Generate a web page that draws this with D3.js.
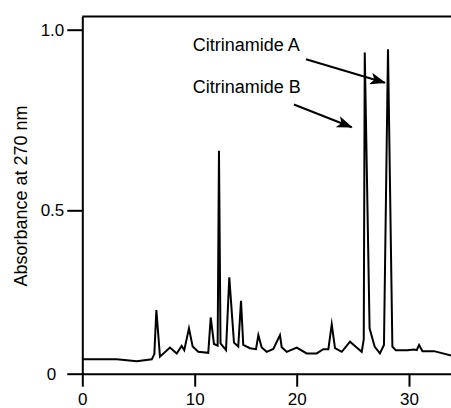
<!DOCTYPE html>
<meta charset="utf-8">
<style>
  body { margin: 0; background: #fff; }
  svg text { font-family: "Liberation Sans", Arial, Helvetica, sans-serif; fill: #000; }
</style>
<script src="https://d3js.org/d3.v7.min.js"></script>
<div id="chart"></div>
<script>
// retention time (min) and absorbance
var time = [0, 3.07, 4.85, 6.18, 6.41, 6.59, 6.91, 7.8, 8.4, 8.84, 9.07, 9.49, 9.82, 10.35,
  11.33, 11.57, 11.89, 12.25, 12.38, 12.53, 13.07, 13.39, 13.85, 14.27, 14.54, 14.76,
  15.42, 16.01, 16.24, 16.57, 17.06, 17.71, 18.36, 18.53, 19.02, 20.0, 20.89, 21.78,
  22.37, 22.82, 23.12, 23.41, 24.01, 24.75, 25.34, 25.79, 25.97, 26.06, 26.49, 26.94,
  27.41, 27.77, 28.13, 28.52, 28.82, 29.86, 30.45, 30.69, 30.9, 31.2, 32.23, 33.8];
var absorbance = [0.044, 0.044, 0.038, 0.044, 0.06, 0.195, 0.052, 0.08, 0.062, 0.085, 0.072, 0.139, 0.083, 0.067,
  0.064, 0.172, 0.091, 0.086, 0.665, 0.093, 0.072, 0.295, 0.095, 0.083, 0.223, 0.088,
  0.078, 0.075, 0.118, 0.08, 0.067, 0.076, 0.118, 0.081, 0.067, 0.08, 0.062, 0.062,
  0.075, 0.075, 0.151, 0.078, 0.067, 0.098, 0.08, 0.067, 0.105, 0.937, 0.139, 0.083,
  0.062, 0.088, 0.946, 0.083, 0.072, 0.072, 0.074, 0.072, 0.088, 0.069, 0.069, 0.055];

var xTicks = [0, 10, 20, 30];
var yTicks = [0, 0.5, 1.0];
var yTickLabels = ["0", "0.5", "1.0"];

// annotations: label position and arrow (start -> tip) in data units
var labels = ["Citrinamide A", "Citrinamide B"];
var labelPos = [[9.83, 0.942], [9.83, 0.825]];
var arrowFrom = [[20.83, 0.918], [19.73, 0.793]];
var arrowTo = [[27.86, 0.853], [24.9, 0.730]];

var width = 451, height = 408;

var svg = d3.select("#chart").append("svg")
  .attr("width", width)
  .attr("height", height);

// the original axes are not quite linear, so each tick interval gets its own piece
var x = d3.scaleLinear()
  .domain([0, 10, 20, 30, 33.74])
  .range([82.3, 194.7, 296.7, 409, 451]);

var y = d3.scaleLinear()
  .domain([0, 0.5, 1.0, 1.0365])
  .range([373.7, 210.3, 29.7, 16.5]);

// top border of the frame
svg.append("line")
  .attr("x1", x(0)).attr("x2", x(33.74))
  .attr("y1", y(1.0365)).attr("y2", y(1.0365))
  .attr("stroke", "#000").attr("stroke-width", 2);

var xAxis = svg.append("g")
  .attr("transform", "translate(0," + y(0) + ")")
  .call(d3.axisBottom(x).tickValues(xTicks).tickSize(13).tickSizeOuter(0).tickPadding(6));

var yAxis = svg.append("g")
  .attr("transform", "translate(" + x(0) + ",0)")
  .call(d3.axisLeft(y).tickValues(yTicks).tickSize(15).tickSizeOuter(0).tickPadding(3)
    .tickFormat(function(d, i) { return yTickLabels[i]; }));

[xAxis, yAxis].forEach(function(g) {
  g.selectAll("path, line").attr("stroke", "#000").attr("stroke-width", 2);
  g.selectAll("text").attr("fill", "#000").style("font-size", "17px")
    .style("font-family", "'Liberation Sans', Arial, sans-serif");
});
// the zero label sits further from its tick in the original
yAxis.selectAll(".tick text").filter(function(d) { return d === 0; }).attr("dx", "-8");

// y axis title
svg.append("text")
  .attr("transform", "translate(27," + 196 + ") rotate(-90)")
  .attr("text-anchor", "middle")
  .style("font-size", "18px")
  .text("Absorbance at 270 nm");

// chromatogram trace
var pts = time.map(function(t, i) { return [t, absorbance[i]]; });
var line = d3.line()
  .x(function(d) { return x(d[0]); })
  .y(function(d) { return y(d[1]); });

svg.append("path")
  .datum(pts)
  .attr("d", line)
  .attr("fill", "none")
  .attr("stroke", "#000")
  .attr("stroke-width", 2)
  .attr("stroke-linejoin", "miter")
  .attr("stroke-miterlimit", 10);

// arrow heads
svg.append("defs").append("marker")
  .attr("id", "head")
  .attr("viewBox", "0 0 16 12")
  .attr("refX", 15).attr("refY", 6)
  .attr("markerWidth", 16).attr("markerHeight", 12)
  .attr("markerUnits", "userSpaceOnUse")
  .attr("orient", "auto")
  .append("path")
  .attr("d", "M0,0 L16,6 L0,12 L4,6 Z")
  .attr("fill", "#000");

labels.forEach(function(txt, i) {
  svg.append("text")
    .attr("x", x(labelPos[i][0]))
    .attr("y", y(labelPos[i][1]))
    .style("font-size", "18px")
    .text(txt);

  svg.append("line")
    .attr("x1", x(arrowFrom[i][0])).attr("y1", y(arrowFrom[i][1]))
    .attr("x2", x(arrowTo[i][0])).attr("y2", y(arrowTo[i][1]))
    .attr("stroke", "#000").attr("stroke-width", 2)
    .attr("marker-end", "url(#head)");
});
</script>
